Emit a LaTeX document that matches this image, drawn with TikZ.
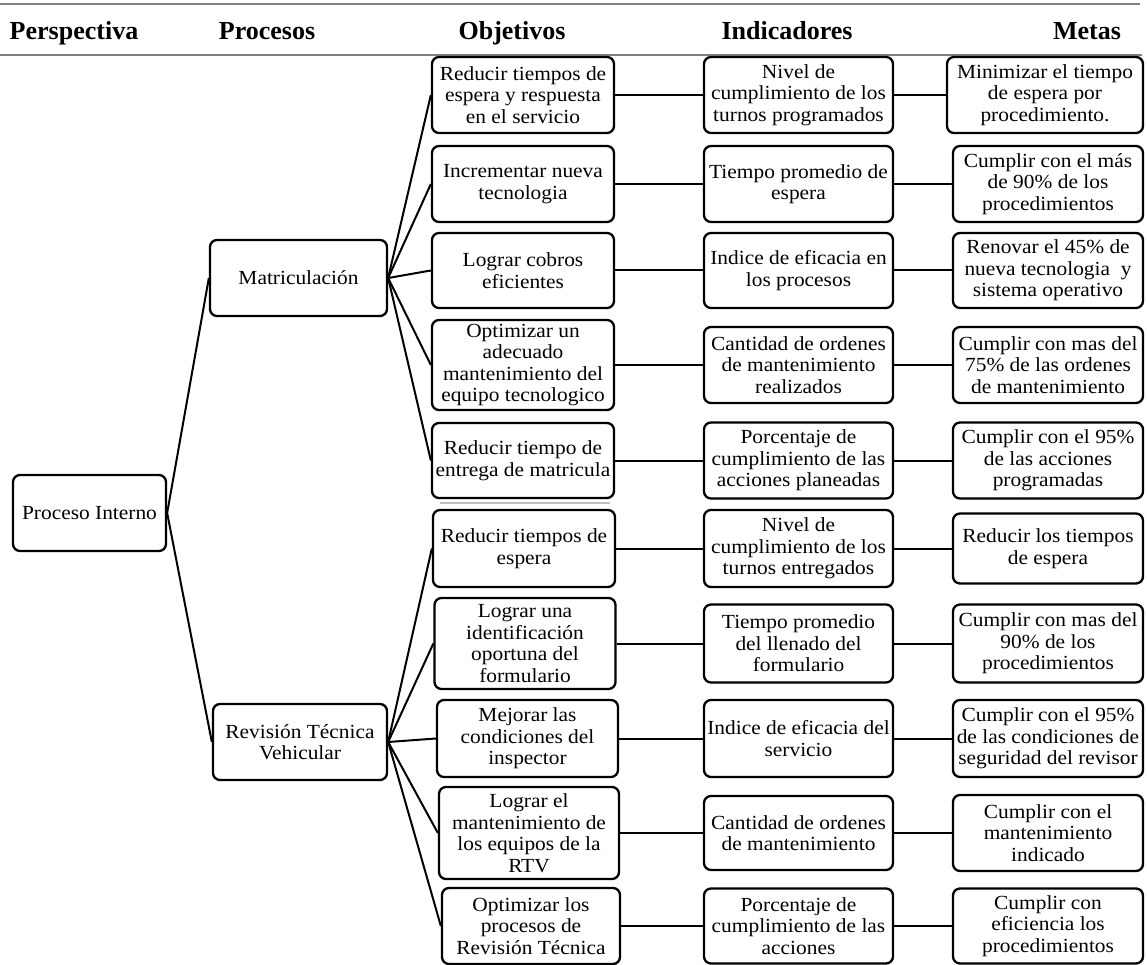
\documentclass[tikz,border=0pt]{standalone}
\usepackage{fontspec}
\setmainfont{Liberation Serif}
\newfontfamily\boxfont[FakeStretch=1.07]{Liberation Serif}
\begin{document}
\begin{tikzpicture}[x=1pt,y=-1pt,
  box/.style={draw=black, line width=2.3pt, rounded corners=7pt, align=center,
    inner sep=0pt, font=\boxfont\fontsize{20}{21.5}\selectfont},
  obj/.style={box, minimum width=182},
  ind/.style={box, minimum width=189},
  meta/.style={box, minimum width=190},
  head/.style={anchor=base, font=\fontsize{26}{28}\selectfont\bfseries},
  link/.style={draw=black, line width=2pt},
  rule/.style={draw=black!50, line width=2pt}]
\useasboundingbox (0,0) rectangle (1147,965);

% table rules
\draw[rule] (0,4) -- (1140,4);
\draw[rule] (0,55) -- (1142,55);
\draw[draw=black!25, line width=1.2pt] (440,503) -- (610,503);

% column headings
\node[head] (hp) at (74,40) {Perspectiva};
\node[head] (hr) at (267,40) {Procesos};
\node[head] (ho) at (512,40) {Objetivos};
\node[head] (hi) at (787,40) {Indicadores};
\node[head] (hm) at (1087,40) {Metas};

% perspective and processes
\node[box, minimum width=153, minimum height=76] (pi) at (89.5,513) {Proceso Interno};
\node[box, minimum width=177, minimum height=76] (mat) at (298.5,278) {Matriculación};
\node[box, minimum width=174, minimum height=76] (rtv) at (300,742) {Revisión Técnica\\Vehicular};

% objectives
\node[obj, minimum height=76] (o1) at (523,95) {Reducir tiempos de\\espera y respuesta\\en el servicio};
\node[obj, minimum height=76] (o2) at (523,184) {Incrementar nueva\\tecnologia};
\node[obj, minimum height=75] (o3) at (523,270.5) {Lograr cobros\\eficientes};
\node[obj, minimum height=90] (o4) at (523,365) {Optimizar un\\adecuado\\mantenimiento del\\equipo tecnologico};
\node[obj, minimum height=75] (o5) at (523,460.5) {Reducir tiempo de\\entrega de matricula};
\node[obj, minimum height=77] (o6) at (524,548.5) {Reducir tiempos de\\espera};
\node[obj, minimum height=91, minimum width=181] (o7) at (525,643.5) {Lograr una\\identificación\\oportuna del\\formulario};
\node[obj, minimum height=77, minimum width=181] (o8) at (527.5,738.5) {Mejorar las\\condiciones del\\inspector};
\node[obj, minimum height=92, minimum width=180] (o9) at (529,833) {Lograr el\\mantenimiento de\\los equipos de la\\RTV};
\node[obj, minimum height=76, minimum width=178] (o10) at (531,926) {Optimizar los\\procesos de\\Revisión Técnica};

% indicators
\node[ind, minimum height=76] (i1) at (798.5,95) {Nivel de\\cumplimiento de los\\turnos programados};
\node[ind, minimum height=76] (i2) at (798.5,184) {Tiempo promedio de\\espera};
\node[ind, minimum height=75] (i3) at (798.5,270.5) {Indice de eficacia en\\los procesos};
\node[ind, minimum height=76] (i4) at (798.5,365) {Cantidad de ordenes\\de mantenimiento\\realizados};
\node[ind, minimum height=76] (i5) at (798.5,460.5) {Porcentaje de\\cumplimiento de las\\acciones planeadas};
\node[ind, minimum height=77] (i6) at (798.5,548.5) {Nivel de\\cumplimiento de los\\turnos entregados};
\node[ind, minimum height=78] (i7) at (798.5,643.5) {Tiempo promedio\\del llenado del\\formulario};
\node[ind, minimum height=77] (i8) at (798.5,738.5) {Indice de eficacia del\\servicio};
\node[ind, minimum height=74] (i9) at (798.5,833) {Cantidad de ordenes\\de mantenimiento};
\node[ind, minimum height=75] (i10) at (798.5,926) {Porcentaje de\\cumplimiento de las\\acciones};

% targets
\node[meta, minimum height=76, minimum width=196] (m1) at (1045,95) {Minimizar el tiempo\\de espera por\\procedimiento.};
\node[meta, minimum height=76] (m2) at (1048,184) {Cumplir con el más\\de 90\% de los\\procedimientos};
\node[meta, minimum height=75] (m3) at (1048,270.5) {Renovar el 45\% de\\nueva tecnologia\ \ y\\sistema operativo};
\node[meta, minimum height=76] (m4) at (1048,365) {Cumplir con mas del\\75\% de las ordenes\\de mantenimiento};
\node[meta, minimum height=76] (m5) at (1048,460.5) {Cumplir con el 95\%\\de las acciones\\programadas};
\node[meta, minimum height=70] (m6) at (1048,548.5) {Reducir los tiempos\\de espera};
\node[meta, minimum height=78] (m7) at (1048,643.5) {Cumplir con mas del\\90\% de los\\procedimientos};
\node[meta, minimum height=77] (m8) at (1048,738.5) {Cumplir con el 95\%\\de las condiciones de\\seguridad del revisor};
\node[meta, minimum height=76] (m9) at (1048,833) {Cumplir con el\\mantenimiento\\indicado};
\node[meta, minimum height=75] (m10) at (1048,926) {Cumplir con\\eficiencia los\\procedimientos};

% tree connectors
\draw[link] (pi.east) -- (mat.west);
\draw[link] (pi.east) -- (rtv.west);
\foreach \k in {1,...,5} \draw[link] (mat.east) -- (o\k.west);
\foreach \k in {6,...,10} \draw[link] (rtv.east) -- (o\k.west);
\foreach \k in {1,...,10} {
  \draw[link] (o\k.east) -- (i\k.west);
  \draw[link] (i\k.east) -- (m\k.west);
}
\end{tikzpicture}
\end{document}
